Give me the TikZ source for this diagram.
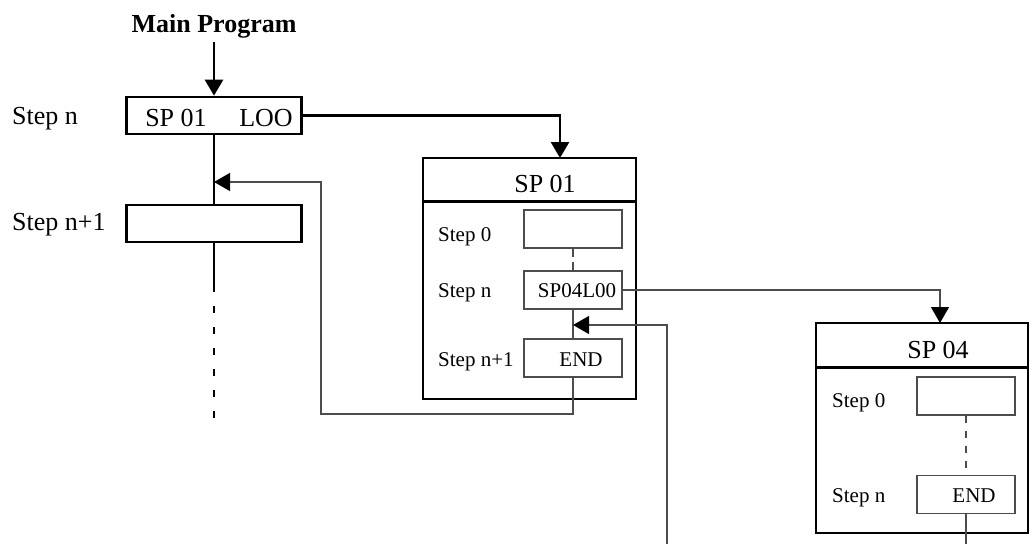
\documentclass[tikz,border=0pt]{standalone}
\usepackage{fontspec}
\setmainfont{Liberation Serif}
\usetikzlibrary{arrows.meta,calc}
\begin{document}
\begin{tikzpicture}[x=1pt,y=-1pt,
  big/.style={font=\fontsize{26}{28}\selectfont, inner sep=0pt, anchor=base},
  small/.style={font=\fontsize{21}{24}\selectfont, inner sep=0pt, anchor=base},
  thickbox/.style={draw, line width=2.7pt, inner sep=0pt},
  thinbox/.style={draw=black!70, line width=1.4pt, inner sep=0pt},
  tip/.style={-{Triangle[length=16pt,width=18pt,color=black]}},
  thinline/.style={draw=black!70, line width=1.4pt},
  thickline/.style={line width=2.7pt}]
\useasboundingbox (0,0) rectangle (1029,544);

% ---------- main program ----------
\node[big, font=\fontsize{26}{28}\selectfont\bfseries] (title) at (214,32) {Main Program};
\coordinate (top) at (214,42);
\node[thickbox, minimum width=175pt, minimum height=37pt] (m1) at (214,115.5) {};
\node[thickbox, minimum width=175pt, minimum height=37pt] (m2) at (214,223.5) {};
\node[big] (m1a) at (176,126) {SP 01};
\node[big] (m1b) at (266,126) {LOO};
\node[big, anchor=base west] (lm1) at (12,124) {Step n};
\node[big, anchor=base west] (lm2) at (12,230) {Step n+1};
\coordinate (j1) at (214,182);
\coordinate (d1) at (214,292);
\coordinate (d2) at (214,420);

\draw[thickline, tip] (top) -- (m1.north);
\draw[thickline] (m1.south) -- (m2.north);
\draw[thickline] (m2.south) -- (d1);
\draw[thickline, dash pattern=on 7pt off 14pt, dash phase=7pt] (d1) -- (d2);

% ---------- SP 01 ----------
\node[thickbox, minimum width=213pt, minimum height=241pt] (sp1) at (529.5,278.5) {};
\draw[thickline] ([yshift=-45pt]sp1.north west) -- ([yshift=-45pt]sp1.north east);
\node[big] (sp1t) at (545,192) {SP 01};
\node[thinbox, minimum width=98pt, minimum height=38pt] (a0) at (573,229) {};
\node[thinbox, minimum width=98pt, minimum height=38pt] (an) at (573,290) {};
\node[thinbox, minimum width=98pt, minimum height=38pt] (an1) at (573,358) {};
\node[small, anchor=base west] (la0) at (438,241) {Step 0};
\node[small, anchor=base west] (lan) at (438,297) {Step n};
\node[small, anchor=base west] (lan1) at (438,366) {Step n+1};
\node[small] (antx) at (577,297) {SP04L00};
\node[small] (an1tx) at (581,366) {END};
\coordinate (e1) at (560,158);
\coordinate (j2) at (573,325);
\coordinate (c2) at (667,544);
\coordinate (lp1) at (321,414);
\coordinate (lp2) at (321,182);

\draw[thinline, dash pattern=on 8pt off 5pt] (a0.south) -- (an.north);
\draw[thinline] (an.south) -- (an1.north);
\draw[thickline, tip] (m1.east) -| (e1);
\draw[thinline, tip] (c2) |- (j2);
\draw[thinline, tip] (an1.south) |- (lp1) -- (lp2) -- (j1);

% ---------- SP 04 ----------
\node[thickbox, minimum width=212pt, minimum height=210pt] (sp4) at (922,428) {};
\draw[thickline] ([yshift=-46pt]sp4.north west) -- ([yshift=-46pt]sp4.north east);
\node[big] (sp4t) at (938,358) {SP 04};
\node[thinbox, minimum width=98pt, minimum height=38pt] (b0) at (966,396) {};
\node[thinbox, minimum width=98pt, minimum height=38pt] (bn) at (966,494.5) {};
\node[small, anchor=base west] (lb0) at (832,407) {Step 0};
\node[small, anchor=base west] (lbn) at (832,502) {Step n};
\node[small] (bntx) at (974,502) {END};
\coordinate (e2) at (940,323);
\coordinate (c3) at (966,544);

\draw[thinline, dash pattern=on 7pt off 8pt] (b0.south) -- (bn.north);
\draw[thinline] (bn.south) -- (c3);
\draw[thinline, tip] (an.east) -| (e2);
\end{tikzpicture}
\end{document}
